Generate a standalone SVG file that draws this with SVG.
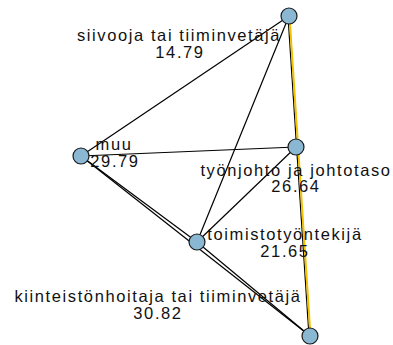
<svg xmlns="http://www.w3.org/2000/svg" width="393" height="345" viewBox="0 0 393 345">
<style>
.e{stroke:#000;stroke-width:1.2;fill:none}
.y{stroke:#F2C200;stroke-width:2;fill:none}
.n{fill:#8AB7D2;stroke:#1a1a1a;stroke-width:1.2}
.t{font-family:"Liberation Sans",Arial,sans-serif;font-size:16.5px;letter-spacing:1.6px;fill:#111;text-anchor:middle}
</style>
<rect width="393" height="345" fill="#fff"/>
<g id="edges">
<line class="e" x1="289" y1="16" x2="81" y2="156"/>
<line class="e" x1="289" y1="16" x2="197" y2="242"/>
<line class="e" x1="81" y1="156" x2="296" y2="147"/>
<line class="e" x1="81" y1="156" x2="197" y2="242"/>
<line class="e" x1="81" y1="156" x2="310" y2="336"/>
<line class="e" x1="296" y1="147" x2="197" y2="242"/>
<line class="e" x1="197" y1="242" x2="310" y2="336"/>
<line class="e" x1="288" y1="16" x2="309" y2="336"/>
<line class="y" x1="289.5" y1="16" x2="310.5" y2="336"/>
</g>
<g id="siivooja"><circle class="n" cx="289" cy="16" r="8"/><text class="t" x="179" y="41">siivooja tai tiiminvetäjä</text><text class="t" x="180" y="58">14.79</text></g>
<g id="muu"><circle class="n" cx="81" cy="156" r="8"/><text class="t" x="114" y="150">muu</text><text class="t" x="115" y="167">29.79</text></g>
<g id="tyonjohto"><circle class="n" cx="296" cy="147" r="8"/><text class="t" x="296" y="176">työnjohto ja johtotaso</text><text class="t" x="296" y="192">26.64</text></g>
<g id="toimisto"><circle class="n" cx="197" cy="242" r="8"/><text class="t" x="285" y="240">toimistotyöntekijä</text><text class="t" x="285" y="257">21.65</text></g>
<g id="kiinteisto"><circle class="n" cx="310" cy="336" r="8"/><text class="t" x="158" y="302">kiinteistönhoitaja tai tiiminvetäjä</text><text class="t" x="158" y="319">30.82</text></g>
</svg>
